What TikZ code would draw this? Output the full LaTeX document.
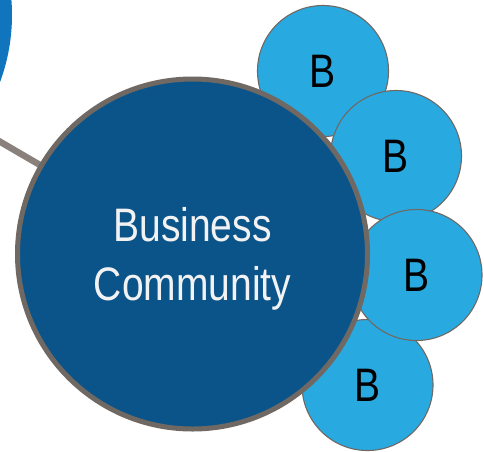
\documentclass[tikz,border=0pt]{standalone}
\usepackage{fontspec}
\setmainfont{Liberation Sans}
\newfontfamily\narrowfont[FakeStretch=0.83]{Liberation Sans}
\definecolor{hubblue}{RGB}{11,84,138}
\definecolor{ringgrey}{RGB}{111,104,99}
\definecolor{linkgrey}{RGB}{138,129,124}
\definecolor{bizblue}{RGB}{40,170,225}
\definecolor{farblue}{RGB}{17,117,190}
\definecolor{softwhite}{RGB}{242,242,242}
\tikzset{
  hub/.style={circle, fill=hubblue, draw=ringgrey, line width=5pt,
    minimum size=350pt, inner sep=0pt},
  hubtext/.style={text=softwhite, align=center, inner sep=0pt,
    font=\narrowfont\fontsize{47}{59}\selectfont},
  member/.style={circle, fill=bizblue, draw=ringgrey, line width=1.1pt,
    minimum size=131pt, inner sep=0pt, text=black,
    font=\narrowfont\fontsize{47}{56}\selectfont},
  link/.style={draw=linkgrey, line width=6.5pt}
}
\begin{document}
\begin{tikzpicture}[x=1pt, y=-1pt]
  \useasboundingbox (0,0) rectangle (484,451);
  \clip (0,0) rectangle (484,451);
  % neighbouring community, mostly off the page
  \fill[farblue] (-181,15) circle[radius=193];
  % link to the neighbour
  \coordinate (far) at (-20,130);
  \coordinate (hubc) at (192.5,254);
  \draw[link] (far) -- (hubc);
  % member businesses around the hub
  \node[member] (b1) at (323,71) {B};
  \node[member] (b2) at (396,156) {B};
  \node[member] (b4) at (367.5,385) {B};
  \node[member] (b3) at (416.5,275) {B};
  % the hub itself
  \node[hub] (hub) at (hubc) {};
  \node[hubtext] (hublabel) at (192.5,258.5) {Business\\Community};
\end{tikzpicture}
\end{document}
